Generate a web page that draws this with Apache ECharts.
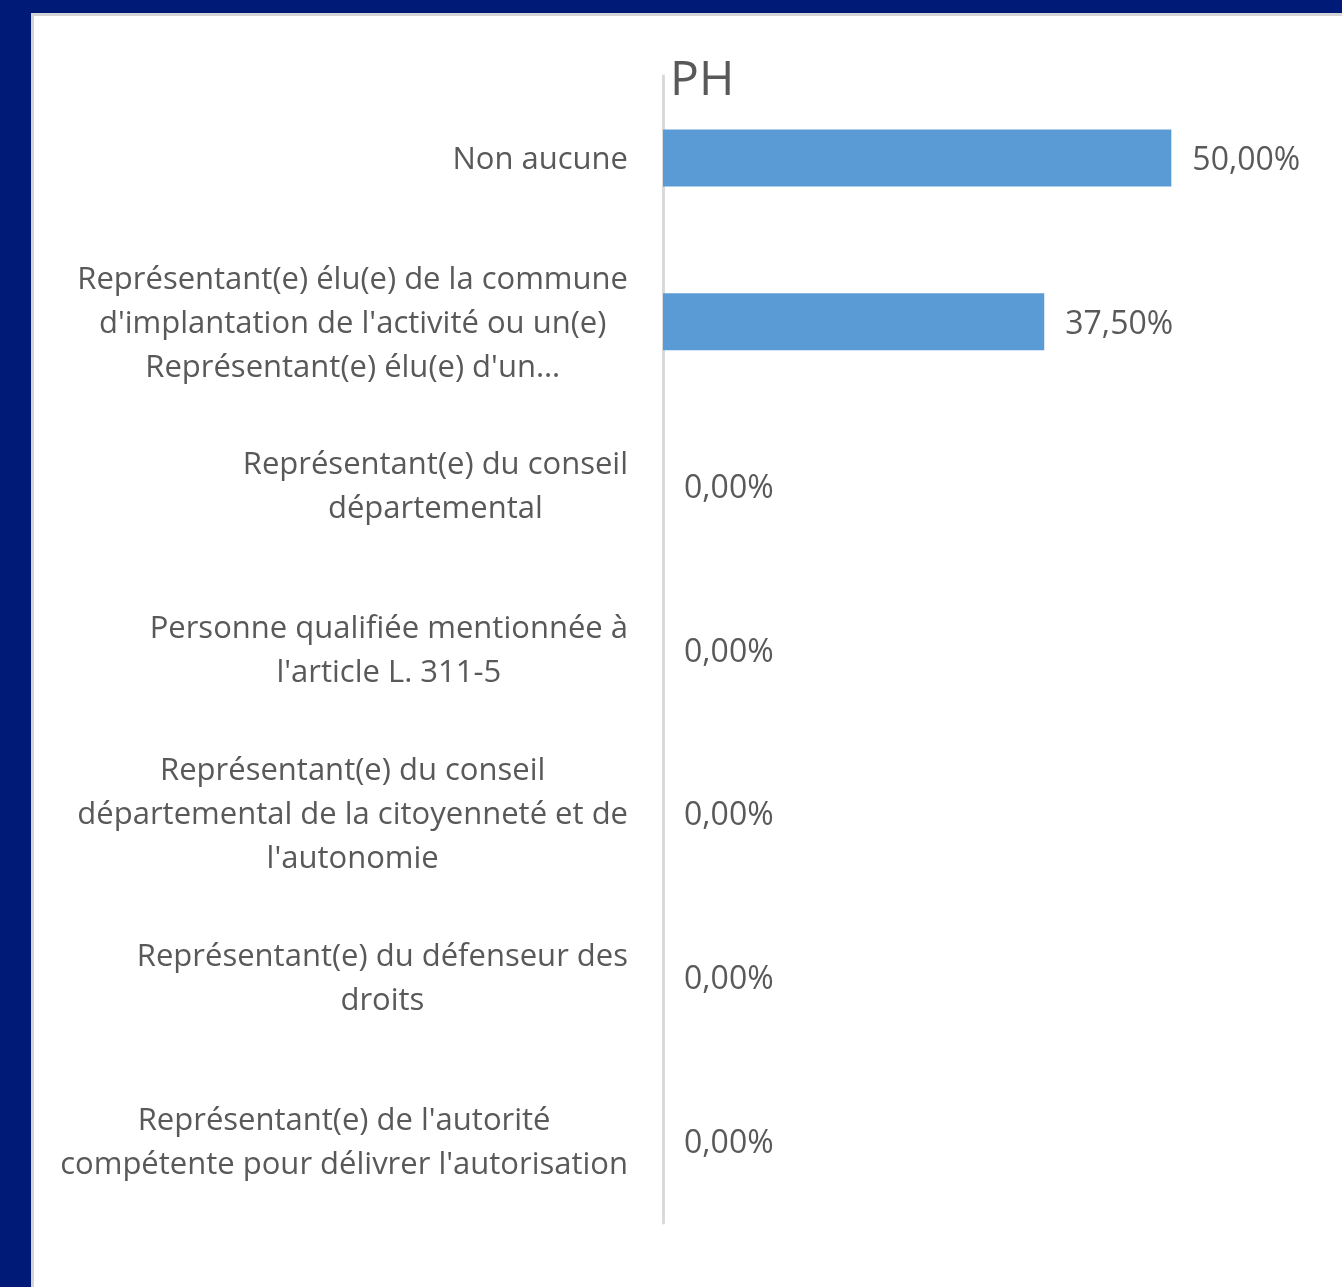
<!DOCTYPE html>
<html>
<head>
<meta charset="utf-8">
<script src="https://cdn.jsdelivr.net/npm/echarts@6/dist/echarts.min.js"></script>
<style>
    html, body { margin: 0; padding: 0; width: 1342px; height: 1287px; overflow: hidden; background: #001a78; }
    #panel { position: absolute; left: 31px; top: 13px; width: 1400px; height: 1400px; background: #fff;
             border-left: 3px solid #d4d4d4; border-top: 3px solid #d4d4d4; }
    #chart { position: absolute; left: 0; top: 0; width: 1342px; height: 1287px; }
</style>
</head>
<body>
<div id="panel"></div>
<div id="chart"></div>
<script>
const categories = [
    "Non aucune",
    "Représentant(e) élu(e) de la commune\nd'implantation de l'activité ou un(e)\nReprésentant(e) élu(e) d'un…",
    "Représentant(e) du conseil\ndépartemental",
    "Personne qualifiée mentionnée à\nl'article L. 311-5",
    "Représentant(e) du conseil\ndépartemental de la citoyenneté et de\nl'autonomie",
    "Représentant(e) du défenseur des\ndroits",
    "Représentant(e) de l'autorité\ncompétente pour délivrer l'autorisation"
]
const values = [0.5, 0.375, 0, 0, 0, 0, 0]

const FONT = '"Open Sans", "Noto Sans", sans-serif'
const TXT = '#595959'

let chart = echarts.init(document.getElementById('chart'), null, { renderer: 'canvas' })

function pct(v) {
    return (v * 100).toFixed(2).replace('.', ',') + '%'
}

let option = {
    backgroundColor: 'transparent',
    animation: false,
    title: {
        text: 'PH',
        left: 665,
        top: 52,
        textStyle: { fontFamily: FONT, fontSize: 48, fontWeight: 'normal', color: TXT }
    },
    grid: { left: 663, top: 76, bottom: 64, right: 69, containLabel: false },
    xAxis: {
        type: 'value',
        min: 0,
        max: 0.6,
        show: false
    },
    yAxis: {
        type: 'category',
        data: categories,
        inverse: true,
        axisLine: { show: true, lineStyle: { color: '#d9d9d9', width: 3 } },
        axisTick: { show: false },
        splitLine: { show: false },
        axisLabel: {
            margin: 35,
            align: 'right',
            formatter: function (v) { return '{c|' + v + '}' },
            rich: {
                c: { align: 'center', fontFamily: FONT, fontSize: 31, lineHeight: 44, color: TXT, padding: [4, 0, 0, 0] }
            }
        }
    },
    series: [{
        type: 'bar',
        data: values,
        barWidth: 57,
        itemStyle: { color: '#5b9bd5' },
        label: {
            show: true,
            position: 'right',
            distance: 21,
            fontFamily: FONT,
            fontSize: 32,
            color: TXT,
            offset: [0, 3],
            formatter: function (p) { return pct(p.value) }
        }
    }]
}
chart.setOption(option)
</script>
</body>
</html>
